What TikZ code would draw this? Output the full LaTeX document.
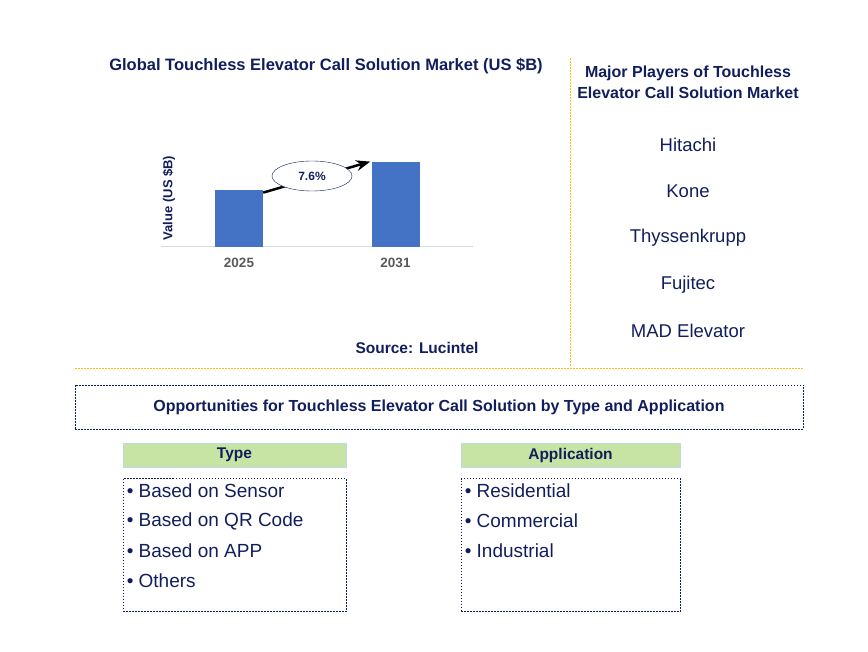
\documentclass[tikz,border=0pt]{standalone}
\usepackage{fontspec}
\setmainfont{Liberation Sans}
\usetikzlibrary{positioning,shapes.geometric,arrows.meta}
\definecolor{navy}{RGB}{18,30,92}
\definecolor{barblue}{RGB}{68,114,196}
\definecolor{gold}{RGB}{255,192,0}
\definecolor{hdrgreen}{RGB}{200,228,165}
\definecolor{hdrline}{RGB}{189,215,238}
\definecolor{yeargray}{RGB}{89,89,89}
\definecolor{axisgray}{RGB}{217,217,217}

\begin{document}
\begin{tikzpicture}[x=1pt, y=-1pt,
    title/.style={font=\bfseries\fontsize{16.5}{20}\selectfont, text=navy, align=center},
    player/.style={font=\fontsize{18.5}{20}\selectfont, text=navy, on grid},
    bar/.style={fill=barblue, minimum width=48pt, inner sep=0pt},
    year/.style={font=\bfseries\fontsize{13.5}{15}\selectfont, text=yeargray},
    sep/.style={draw=gold, dash pattern=on 2pt off 1pt, line width=1pt},
    dotbox/.style={draw=navy, dash pattern=on 1.5pt off 1.5pt, line width=0.9pt, inner sep=0pt},
    header/.style={fill=hdrgreen, draw=hdrline, minimum width=223pt, minimum height=24pt, inner sep=0pt, font=\bfseries\fontsize{15.5}{17}\selectfont, text=navy},
    item/.style={font=\fontsize{19}{20}\selectfont, text=navy, anchor=west, inner sep=0pt},
    >={Stealth}
  ]
  \useasboundingbox (0,0) rectangle (868,652);

  \node [title] (maintitle) at (326,66) {Global Touchless Elevator Call Solution Market (US \$B)};
  \node [title, font=\bfseries\fontsize{16}{21}\selectfont] (playtitle) at (688,82) {Major Players of Touchless\\Elevator Call Solution Market};

  \coordinate (axl) at (161,247);
  \coordinate (axr) at (473,247);
  \draw [axisgray, line width=1pt] (axl) -- (axr);
  \node [bar, minimum height=57pt, anchor=south] (b25) at (239,247) {};
  \node [bar, minimum height=85pt, anchor=south] (b31) at (395.5,247) {};
  \node [year, below=8pt of b25] (y25) {2025};
  \node [year, below=8pt of b31] (y31) {2031};
  \node [rotate=90, font=\bfseries\fontsize{13}{15}\selectfont, text=navy] (ylab) at (169,198) {Value (US \$B)};
  \draw [->, line width=2.5pt] ([yshift=-3pt]b25.north east) -- ([xshift=-1pt]b31.north west);
  \node [ellipse, draw=navy, fill=white, minimum width=80pt, minimum height=30pt, inner sep=0pt,
         font=\bfseries\fontsize{12}{14}\selectfont, text=navy] (cagr) at (312,176) {7.6\%};
  \node [title, font=\bfseries\fontsize{15.5}{18}\selectfont] (source) at (417,348) {Source: Lucintel};

  \node [player] (hitachi) at (688,145) {Hitachi};
  \node [player, below=46.5pt of hitachi] (kone) {Kone};
  \node [player, below=46.5pt of kone] (thyssen) {Thyssenkrupp};
  \node [player, below=46.5pt of thyssen] (fujitec) {Fujitec};
  \node [player, below=46.5pt of fujitec] (mad) {MAD Elevator};

  \coordinate (vtop) at (570,58);
  \coordinate (vbot) at (570,367);
  \coordinate (hl) at (75,369);
  \coordinate (hr) at (803,369);
  \draw [sep] (vtop) -- (vbot);
  \draw [sep] (hl) -- (hr);

  \node [dotbox, minimum width=728pt, minimum height=44pt, font=\bfseries\fontsize{16}{17}\selectfont, text=navy] (opp) at (439,407)
        {Opportunities for Touchless Elevator Call Solution by Type and Application};

  \node [header] (typehdr) at (234.5,455) {Type};
  \node [header, minimum width=219pt] (apphdr) at (570.5,455) {Application};
  \node [dotbox, minimum width=223pt, minimum height=133pt, below=11pt of typehdr] (typebox) {};
  \node [dotbox, minimum width=219pt, minimum height=133pt, below=11pt of apphdr] (appbox) {};

  \node [item] (t1) at ([xshift=4pt,yshift=-13pt]typebox.north west) {• Based on Sensor};
  \node [item, below=30pt of t1.west, anchor=west] (t2) {• Based on QR Code};
  \node [item, below=30pt of t2.west, anchor=west] (t3) {• Based on APP};
  \node [item, below=30pt of t3.west, anchor=west] (t4) {• Others};

  \node [item] (a1) at ([xshift=4pt,yshift=-13pt]appbox.north west) {• Residential};
  \node [item, below=30pt of a1.west, anchor=west] (a2) {• Commercial};
  \node [item, below=30pt of a2.west, anchor=west] (a3) {• Industrial};
\end{tikzpicture}
\end{document}
